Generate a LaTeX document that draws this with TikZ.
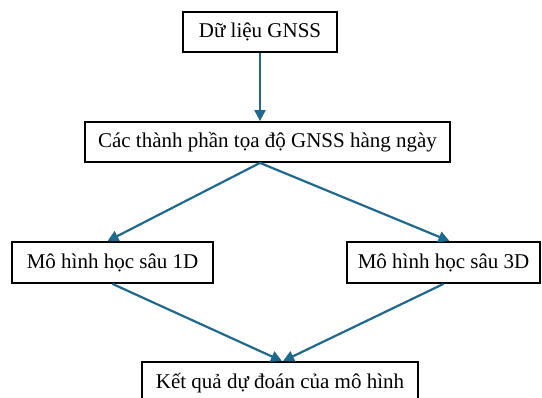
\documentclass[tikz,border=0pt]{standalone}
\usepackage{fontspec}
\setmainfont{Liberation Serif}
\usetikzlibrary{arrows.meta}
\definecolor{arrowblue}{RGB}{31,104,142}
\tikzset{
  box/.style={draw=black, line width=1.8pt, fill=white, inner sep=0pt, align=center,
    font=\fontsize{21}{25}\selectfont},
  conn/.style={draw=arrowblue, line width=2.2pt, -{Triangle[length=11pt,width=11pt]}},
}
\begin{document}
\begin{tikzpicture}[x=1pt,y=-1pt]
\clip (0,0) rectangle (542,398);
\fill[white] (0,0) rectangle (542,398);
\node[box, minimum width=154pt, minimum height=40pt] (b1) at (260,32) {Dữ liệu GNSS};
\node[box, minimum width=365pt, minimum height=40pt] (b2) at (267.5,142) {Các thành phần tọa độ GNSS hàng ngày};
\node[box, minimum width=201pt, minimum height=41pt] (b3) at (112.5,262.5) {Mô hình học sâu 1D};
\node[box, minimum width=193pt, minimum height=41pt] (b4) at (443.5,262.5) {Mô hình học sâu 3D};
\node[box, minimum width=276pt, minimum height=42pt] (b5) at (280,383) {Kết quả dự đoán của mô hình};
\coordinate (s2) at (b1.south |- b2.south);
\draw[conn] (b1.south) -- (b1.south |- b2.north);
\draw[conn] (s2) -- ([xshift=-5pt]b3.north);
\draw[conn] (s2) -- ([xshift=6pt]b4.north);
\draw[conn] (b3.south) -- ([xshift=2pt]b5.north);
\draw[conn] (b4.south) -- ([xshift=3pt]b5.north);
\end{tikzpicture}
\end{document}
